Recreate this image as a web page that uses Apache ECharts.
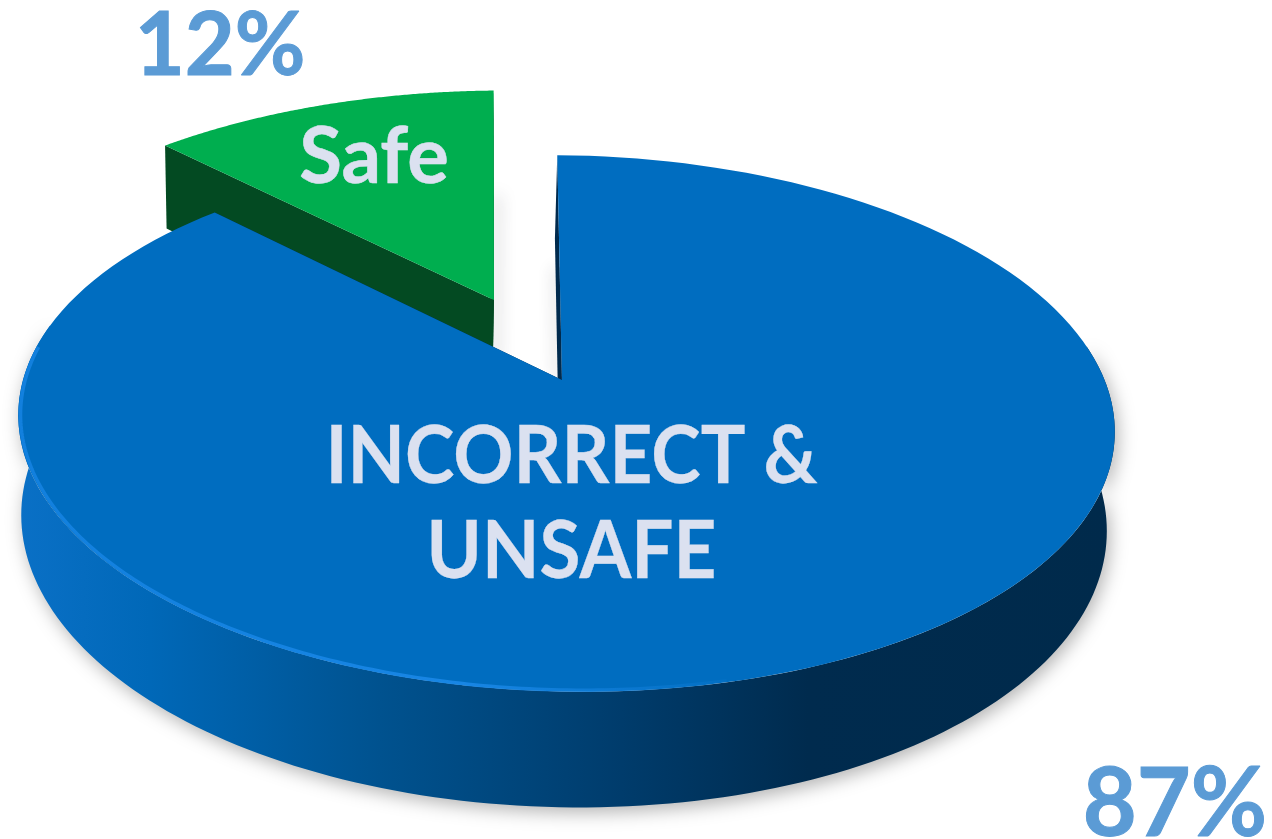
<!DOCTYPE html>
<html>
<head>
<meta charset="utf-8">
<title>Safe vs incorrect and unsafe</title>
<script src="https://cdn.jsdelivr.net/npm/echarts@6/dist/echarts.min.js"></script>
<style>
  html, body { margin: 0; padding: 0; background: #fff; }
  #chart { width: 1272px; height: 839px; }
</style>
</head>
<body>
<div id="chart"></div>
<script>
// values
var categories = ['INCORRECT & UNSAFE', 'Safe'];
var values = [87, 12];
var percentLabels = ['87%', '12%'];
var sliceLabels = ['INCORRECT &\nUNSAFE', 'Safe'];

var topColors = ['#006dc0', '#00ae4f'];
var cutColors = ['#002a4d', '#034a22'];

// perspective of the tilted disc, per slice where the picture differs
var cx = 567.4, cy = 380, rx = 541, ry = 261, persp = 0.162, wall = 97;
var startAngle = -1.8;
var STEPS = 160;
var offsetX = [0, -0.1428];    // slice pulled out of the disc
var offsetY = [0, -0.322];
var apexShiftX = [-0.01, 0];
var radiusScale = [1, 1.03];
var tilt = [0.02, 0];
var endPad = [1.5, 0];
var angleShift = [0, 0.5];

var total = values.reduce(function (a, b) { return a + b; }, 0);

function project(idx, wx, wy, down) {
  var s = 1 / (1 - persp * wy);
  var shrink = down ? 0.99 : 1;
  var px = rx * wx * s * shrink;
  var py = ry * wy * s;
  return [
    cx + px - tilt[idx] * py + (down ? -2.5 : 0),
    cy + py + tilt[idx] * px + (down ? wall * s : 0)
  ];
}

function arcPoints(idx, a0, a1, r, down) {
  var pts = [];
  for (var i = 0; i <= STEPS; i++) {
    var a = (a0 + (a1 - a0) * i / STEPS) * Math.PI / 180;
    pts.push(project(idx, offsetX[idx] + r * Math.sin(a), offsetY[idx] - r * Math.cos(a), down));
  }
  return pts;
}

function sliceStart(idx) {
  var before = 0;
  for (var i = 0; i < idx; i++) before += values[i];
  return startAngle + angleShift[idx] + before / total * 360;
}

function mix(p, q, t) {
  return [p[0] + (q[0] - p[0]) * t, p[1] + (q[1] - p[1]) * t];
}

// thin strip hidden under the top face, only its blurred shadow shows beside the cut
function edgeShadow(p0, p1, side) {
  return {
    type: 'polygon',
    shape: { points: [p0, p1, [p1[0] - side * 3, p1[1]], [p0[0] - side * 3, p0[1]]] },
    style: {
      fill: '#888',
      shadowBlur: 16,
      shadowColor: 'rgba(40,40,50,0.4)',
      shadowOffsetX: side * 5
    }
  };
}

function renderSlice(idx, api) {
  var v = api.value(0);
  var a0 = sliceStart(idx);
  var a1 = a0 + v / total * 360 - endPad[idx];
  var r = radiusScale[idx];

  var topArc = arcPoints(idx, a0, a1, r, false);
  var lowArc = arcPoints(idx, a0, a1, r, true);
  var apexTop = project(idx, offsetX[idx] + apexShiftX[idx], offsetY[idx], false);
  var apexLow = project(idx, offsetX[idx] + apexShiftX[idx], offsetY[idx], true);
  var children = [];

  if (idx === 0) {
    // only the front of the wall is seen, the blur gives the ground shadow
    children.push({
      type: 'polygon',
      shape: {
        points: arcPoints(idx, 80, 280, r, false).concat(arcPoints(idx, 80, 280, r, true).reverse())
      },
      style: {
        fill: new echarts.graphic.LinearGradient(18, 0, 1115, 0, [
          { offset: 0, color: '#0a70c6' },
          { offset: 0.12, color: '#0068b8' },
          { offset: 0.33, color: '#00528f' },
          { offset: 0.55, color: '#003c6c' },
          { offset: 0.72, color: '#002b4e' },
          { offset: 1, color: '#002a4b' }
        ], true),
        shadowBlur: 18,
        shadowColor: 'rgba(0,0,0,0.3)',
        shadowOffsetX: 3,
        shadowOffsetY: 5
      }
    });
    children.push(edgeShadow(mix(apexTop, topArc[0], 0.5), apexTop, -1));
  } else {
    children.push(edgeShadow(mix(apexTop, topArc[STEPS], 0.5), apexLow, 1));
  }

  // the two cut faces
  [[topArc[0], lowArc[0]], [topArc[STEPS], lowArc[STEPS]]].forEach(function (e) {
    children.push({
      type: 'polygon',
      shape: { points: [apexTop, e[0], e[1], apexLow] },
      style: { fill: cutColors[idx] }
    });
  });

  // top face
  children.push({
    type: 'polygon',
    shape: { points: [apexTop].concat(topArc) },
    style: { fill: topColors[idx] }
  });

  // light rim along the front left of the disc
  if (idx === 0) {
    children.push({
      type: 'polyline',
      shape: { points: arcPoints(idx, 165, 275, 0.996, false) },
      style: {
        fill: 'none',
        lineWidth: 3.5,
        stroke: new echarts.graphic.LinearGradient(18, 0, 760, 0, [
          { offset: 0, color: 'rgba(20,130,225,0.9)' },
          { offset: 0.6, color: 'rgba(25,135,230,0.95)' },
          { offset: 1, color: 'rgba(25,135,230,0)' }
        ], true)
      }
    });
  }

  return { type: 'group', children: children };
}

function labelText(x, y, text, size, color, squeeze, lineHeight, thicken) {
  return {
    type: 'text',
    x: x,
    y: y,
    scaleX: squeeze,
    style: {
      text: text,
      fill: color,
      stroke: color,
      lineWidth: thicken,
      font: 'bold ' + size + 'px Lato, "Open Sans", sans-serif',
      lineHeight: lineHeight,
      align: 'center',
      verticalAlign: 'middle'
    }
  };
}

var chart = echarts.init(document.getElementById('chart'), null, { renderer: 'canvas' });

// later series sit on top: the blue slice hides the foot of the green one
var series = [1, 0].map(function (idx) {
  return {
    type: 'custom',
    name: categories[idx],
    coordinateSystem: 'none',
    z: idx === 1 ? 2 : 3,
    silent: true,
    data: [[values[idx]]],
    renderItem: function (params, api) { return renderSlice(idx, api); }
  };
});

series.push({
  type: 'custom',
  name: 'labels',
  coordinateSystem: 'none',
  z: 5,
  silent: true,
  data: [[0]],
  renderItem: function () {
    return {
      type: 'group',
      children: [
        labelText(374, 158, sliceLabels[1], 78, '#dbe1f0', 1, 80, 0.5),
        labelText(571.5, 505, sliceLabels[0], 80, '#dbe1f0', 0.933, 95, 0.3),
        labelText(220, 47, percentLabels[1], 88, '#5b9bd5', 0.98, 90, 1),
        labelText(1175, 805, percentLabels[0], 95, '#5b9bd5', 0.98, 90, 1)
      ]
    };
  }
});

chart.setOption({
  animation: false,
  backgroundColor: '#ffffff',
  series: series
});
</script>
</body>
</html>
